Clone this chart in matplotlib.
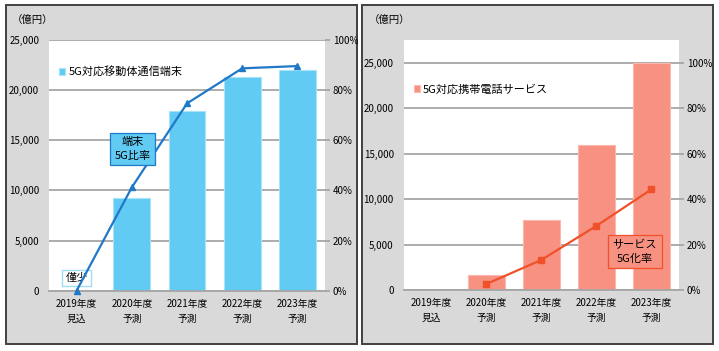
import matplotlib
matplotlib.use("Agg")
import matplotlib.pyplot as plt
from matplotlib.patches import Rectangle

plt.rcParams['font.family'] = ['Noto Sans CJK JP', 'DejaVu Sans']

# ---- data ----
categories = ['2019年度\n見込', '2020年度\n予測', '2021年度\n予測', '2022年度\n予測', '2023年度\n予測']
terminal_sales = [0, 9200, 17900, 21300, 22000]          # 億円
terminal_ratio = [0, 41.2, 74.7, 88.7, 89.6]             # %
service_sales = [0, 1700, 7700, 16000, 25000]            # 億円
service_ratio = [None, 2.6, 13.2, 28.2, 44.3]            # %

yticks = [0, 5000, 10000, 15000, 20000, 25000]
pct_ticks = [0, 20, 40, 60, 80, 100]

# ---- colours ----
panel_bg = '#d9d9d9'
grid_c = '#a6a6a6'
blue_bar = '#61cbf3'
blue_line = '#1f78c8'
red_bar = '#f79181'
red_line = '#f0502a'

fig = plt.figure(figsize=(7.19, 3.51), dpi=100)
W, H = 719, 351

def fx(px):
    return px / W

def fy(py):
    return (H - py) / H

# panel frames
for x0, x1 in [(5.5, 356.5), (361.5, 712.5)]:
    fig.patches.append(Rectangle((fx(x0), fy(344)), fx(x1 - x0), (344 - 5) / H,
                                 transform=fig.transFigure, facecolor=panel_bg,
                                 edgecolor='#404040', linewidth=1.4, zorder=-10))


def setup(ax, ax2, top):
    ax.set_xlim(-0.5, 4.5)
    ax.set_ylim(0, top)
    ax.set_yticks(yticks)
    ax.set_yticklabels([f'{v:,}' for v in yticks], fontsize=7)
    ax.set_xticks(range(len(categories)))
    ax.set_xticklabels(categories, fontsize=7, linespacing=1.6)
    ax.tick_params(axis='y', length=0, pad=7)
    ax.tick_params(axis='x', length=0, pad=6)
    ax.grid(axis='y', color=grid_c, linewidth=1.3)
    ax.set_axisbelow(True)
    for s in ['top', 'left', 'right']:
        ax.spines[s].set_visible(False)
    ax.spines['bottom'].set_color(grid_c)
    ax.spines['bottom'].set_linewidth(1.3)
    ax2.set_ylim(0, top / 250)
    ax2.set_yticks(pct_ticks)
    ax2.set_yticklabels([f'{v}%' for v in pct_ticks], fontsize=7)
    ax2.tick_params(axis='y', length=3.5, color=grid_c, width=1.3, pad=2)
    for s in ax2.spines.values():
        s.set_visible(False)


# ---- left panel: terminals ----
axL = fig.add_axes([fx(49), fy(290.7), fx(325 - 49), (290.7 - 40) / H])
axL2 = axL.twinx()
setup(axL, axL2, 25000)
bars = axL.bar(range(len(categories)), terminal_sales, width=0.67, color=blue_bar,
               edgecolor='#a9e3f8', linewidth=0.8, label='5G対応移動体通信端末')
axL2.plot(range(len(categories)), terminal_ratio, color=blue_line, linewidth=1.6,
          marker='^', markersize=5, clip_on=False, zorder=5)
axL.legend(handles=[bars], loc='upper left', bbox_to_anchor=(0.0, 0.935), frameon=False,
           fontsize=8, handlelength=0.55, handleheight=0.55, handletextpad=0.3)
axL2.text(1.02, 56.5, '端末\n5G比率', ha='center', va='center', fontsize=8, linespacing=1.45,
          bbox=dict(boxstyle='square,pad=0.4', facecolor=blue_bar, edgecolor=blue_line, linewidth=0.9),
          zorder=6)
axL2.text(0.0, 5.1, '僅少', ha='center', va='center', fontsize=8,
          bbox=dict(boxstyle='square,pad=0.3', facecolor='white', edgecolor='#9fdcf5', linewidth=1.0),
          zorder=4)
fig.text(fx(12), fy(20), '（億円）', fontsize=7.5, va='center', ha='left')

# ---- right panel: services ----
axR = fig.add_axes([fx(403.5), fy(290), fx(679 - 403.5), (290 - 40) / H])
axR2 = axR.twinx()
setup(axR, axR2, 27500)
bars_r = axR.bar(range(len(categories)), service_sales, width=0.67, color=red_bar,
                 edgecolor='#fbb9ae', linewidth=0.8, label='5G対応携帯電話サービス')
axR2.plot(range(1, len(categories)), service_ratio[1:], color=red_line, linewidth=1.6,
          marker='s', markersize=4.5, zorder=5)
axR.legend(handles=[bars_r], loc='upper left', bbox_to_anchor=(0.0, 0.865), frameon=False,
           fontsize=8, handlelength=0.55, handleheight=0.55, handletextpad=0.3)
axR2.text(3.7, 16.8, 'サービス\n5G化率', ha='center', va='center', fontsize=8, linespacing=1.45,
          bbox=dict(boxstyle='square,pad=0.4', facecolor=red_bar, edgecolor=red_line, linewidth=0.9),
          zorder=6)
fig.text(fx(369), fy(20), '（億円）', fontsize=7.5, va='center', ha='left')

fig.savefig('out.png', dpi=100)
